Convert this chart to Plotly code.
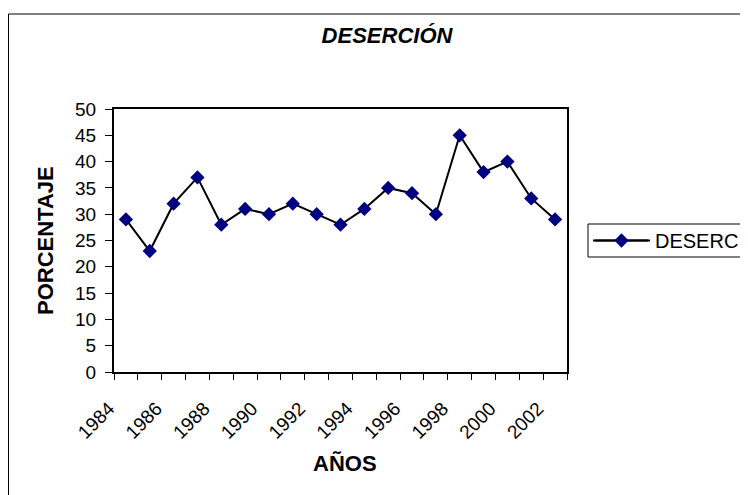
import plotly.graph_objects as go

years = list(range(1984, 2003))
desercion = [29, 23, 32, 37, 28, 31, 30, 32, 30, 28, 31, 35, 34, 30, 45, 38, 40, 33, 29]
tick_years = years[::2]
tick_labels = [str(y) for y in tick_years]

# the page body has an 8px margin, so the figure is drawn 8px smaller
OFF = 8
W, H = 748 - OFF, 495 - OFF
# plot area in screen pixels
L, R, T, B = 114, 567, 109, 372
pw, ph = R - L, B - T


def px(x):
    return (x - L) / pw


def py(y):
    return (B - y) / ph


fig = go.Figure()
fig.add_trace(go.Scatter(
    x=years, y=desercion, name='DESERC', mode='lines+markers',
    line=dict(color='black', width=2),
    marker=dict(symbol='diamond', size=11, color='#000080'),
))

font = dict(family='Arial, Liberation Sans, sans-serif', color='black')

fig.update_layout(
    width=W, height=H,
    margin=dict(l=L - OFF, r=W - (R - OFF), t=T - OFF, b=H - (B - OFF), autoexpand=False),
    paper_bgcolor='white', plot_bgcolor='white',
    font=dict(size=19, **font),
    title=dict(text='<b><i>DESERCIÓN</i></b>', x=(387 - OFF) / W, xanchor='center',
               y=1 - (35 - OFF) / H, yanchor='middle', xref='container', yref='container',
               font=dict(size=22, **font)),
    showlegend=True,
    legend=dict(x=px(588), xanchor='left', y=py(240.5), yanchor='middle',
                borderwidth=0, bgcolor='rgba(0,0,0,0)', itemwidth=57,
                font=dict(size=20, **font)),
    xaxis=dict(
        range=[1983.5, 2002.5], tickmode='array', tickvals=tick_years, ticktext=tick_labels,
        tickangle=-45, ticks='', showgrid=False, zeroline=False,
        showline=True, linecolor='black', linewidth=2, mirror=True,
        minor=dict(ticks='outside', ticklen=6, tickcolor='black', tick0=1983.5, dtick=1,
                   showgrid=False),
        ticklabelshift=-17, ticklabelstandoff=16,
        tickfont=dict(size=19, **font),
    ),
    yaxis=dict(
        range=[0, 50], dtick=5, ticks='outside', ticklen=7, tickcolor='black',
        showgrid=False, zeroline=False,
        showline=True, linecolor='black', linewidth=2, mirror=True,
        ticklabelstandoff=5,
        tickfont=dict(size=19, **font),
    ),
    annotations=[
        dict(text='<b>AÑOS</b>', xref='paper', yref='paper', x=px(345), y=py(464),
             xanchor='center', yanchor='middle',
             showarrow=False, font=dict(size=22, **font)),
        dict(text='<b>PORCENTAJE</b>', xref='paper', yref='paper', x=px(45), y=py(241),
             xanchor='center', yanchor='middle',
             showarrow=False, textangle=-90, font=dict(size=22, **font)),
    ],
    shapes=[
        dict(type='rect', xref='paper', yref='paper',
             x0=px(OFF + 0.5), x1=px(770), y0=py(520), y1=py(14),
             line=dict(color='black', width=1), layer='below'),
        dict(type='rect', xref='paper', yref='paper',
             x0=px(588), x1=px(770), y0=py(257), y1=py(224),
             line=dict(color='black', width=1)),
        dict(type='line', xref='paper', yref='paper',
             x0=px(595), x1=px(648), y0=py(240.5), y1=py(240.5),
             line=dict(color='black', width=2)),
    ],
)

fig.write_html('out.html')
